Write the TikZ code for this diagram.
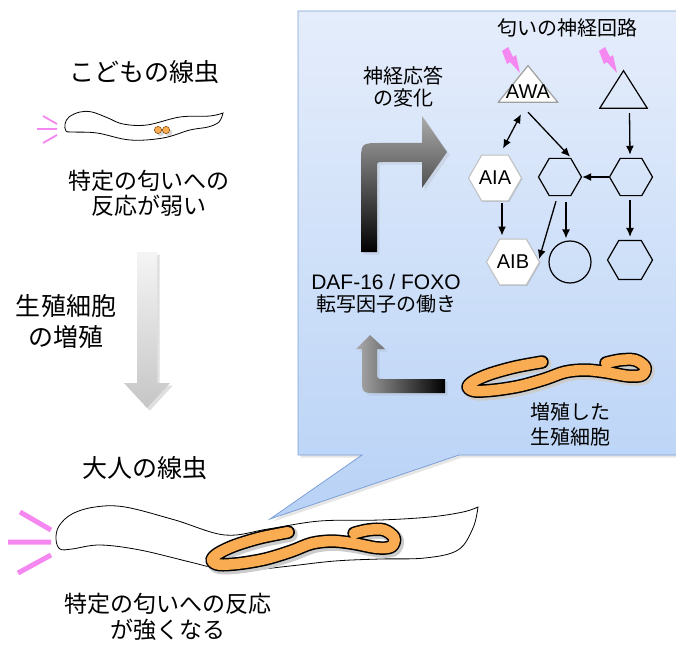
\documentclass[tikz,border=0pt]{standalone}
\usepackage{fontspec}
\setmainfont{Noto Sans CJK JP}
\newfontfamily\latinfont{Liberation Sans}
\usetikzlibrary{arrows.meta,shapes.geometric,shadows,calc}

\definecolor{boxtop}{RGB}{229,237,251}
\definecolor{boxbot}{RGB}{184,210,246}
\definecolor{boxedge}{RGB}{125,160,215}
\definecolor{gonadorange}{RGB}{250,172,82}
\definecolor{odourpink}{RGB}{245,135,240}

\tikzset{
  title/.style={align=center, font=\fontsize{25}{31}\selectfont},
  caption/.style={align=center, font=\fontsize{23}{25}\selectfont},
  inbox/.style={align=center, font=\fontsize{20}{22}\selectfont},
  link/.style={line width=1.3pt, ->},
  wormline/.style={fill=white, draw=black, line width=0.8pt},
  hexw/.style={regular polygon, regular polygon sides=6, inner sep=0pt, fill=white, draw=gray!50, line width=1pt,
    drop shadow={opacity=0.3, shadow xshift=1pt, shadow yshift=-1pt}, font=\latinfont\fontsize{20}{20}\selectfont},
  hexo/.style={regular polygon, regular polygon sides=6, inner sep=0pt, draw=black, line width=1.2pt},
  tri/.style={inner sep=0pt, text height=30pt, text depth=0pt, font=\latinfont\fontsize{20}{20}\selectfont,
    path picture={\draw[#1] ([xshift=0.7pt,yshift=0.7pt]path picture bounding box.south west)
      -- ([yshift=-0.7pt]path picture bounding box.north)
      -- ([xshift=-0.7pt,yshift=0.7pt]path picture bounding box.south east) -- cycle;}},
  gonad/.pic={
    \foreach \w/\c/\s in {15/black!20/2, 13.5/black/0, 10.5/gonadorange/0}
      \draw[line width=\w pt, \c, line cap=round, line join=round, xshift=\s pt, yshift=-\s pt]
        plot[smooth, tension=0.55] coordinates
        {(72,-24) (45,-19) (20,-12) (4,-5) (-2,1) (5,5) (25,4) (50,0) (75,-7) (95,-14) (115,-16)
         (135,-14) (158,-10) (172,-11) (175,-19) (165,-26) (150,-26) (136,-23)};
  },
  bolt/.pic={
    \fill[odourpink] (-18,-22) -- (-12,-26) -- (-7,-16) -- (-4,-18) -- (0,0) -- (-10,-11) -- (-13,-9) -- cycle;
  }
}

\begin{document}
\begin{tikzpicture}[x=1pt, y=-1pt, >={Latex[length=9pt,width=8pt]}]
  \useasboundingbox (0,0) rectangle (676,644);

  \shade[top color=boxtop, bottom color=boxbot, draw=boxedge, line width=0.8pt, drop shadow={opacity=0.2}]
    (298,11) -- (682,11) -- (682,455) -- (459,455) -- (270,519) -- (362,455) -- (298,455) -- cycle;

  % young worm
  \node[title] (kid) at (144,72) {こどもの線虫};
  \draw[odourpink, line width=1.8pt] (43,116) -- (57,124) (37,129) -- (57,129) (43,143) -- (57,135);
  \draw[wormline] plot[smooth, tension=0.6] coordinates
    {(223,113) (219,122) (208,127) (190,130) (163,138) (130,140) (97,133) (72,132) (66,131) (65,124)
     (69,117) (80,112) (92,112) (108,118) (123,124) (147,125) (180,117) (210,116) (223,113)} -- cycle;
  \filldraw[fill=gonadorange, draw=orange!50!black, line width=0.5pt, drop shadow={opacity=0.3}]
    (158,130) circle[radius=3.6] (166,130) circle[radius=3.6];
  \node[caption] (kidtxt) at (149,193) {特定の匂いへの\\反応が弱い};

  \shade[top color=gray!8, bottom color=gray!45, drop shadow={opacity=0.25}]
    (137,252) -- (157,252) -- (157,383) -- (170,383) -- (147,408) -- (124,383) -- (137,383) -- cycle;
  \node[title] (grow) at (66,322) {生殖細胞\\の増殖};

  % adult worm
  \node[title] (adult) at (145,468) {大人の線虫};
  \draw[odourpink, line width=5pt] (20,512) -- (51,530) (8,542) -- (51,542) (18,573) -- (51,555);
  \draw[wormline] plot[smooth, tension=0.6] coordinates
    {(478,507) (473,528) (458,550) (425,558) (380,559) (335,561) (290,566) (250,570) (220,569) (190,562)
     (140,550) (100,545) (72,549) (60,549) (56,539) (59,526) (72,514) (95,507) (125,507) (175,520)
     (225,535) (268,529) (320,521) (380,520) (430,517) (463,512) (478,507)} -- cycle;
  \pic[xscale=1.03, yscale=1.12] at (214,559) {gonad};
  \node[caption, font=\fontsize{23}{26}\selectfont] (adulttxt) at (168,617) {特定の匂いへの反応\\が強くなる};

  % odour circuit
  \node[inbox] (circuit) at (567,28) {匂いの神経回路};
  \node[tri={fill=white, draw=gray!75, line width=1.2pt}, minimum width=61pt, minimum height=38pt] (AWA) at (528,84) {AWA};
  \node[tri={draw=black, line width=1.2pt}, minimum width=49pt, minimum height=39pt] (Ntri) at (623.5,89.5) {};
  \pic at (520,73) {bolt};
  \pic at (617,73) {bolt};
  \node[hexw, minimum size=53pt] (AIA) at (495,178) {AIA};
  \node[hexo, minimum size=43pt] (Nmid) at (560,177) {};
  \node[hexo, minimum size=43pt] (Nright) at (631,177) {};
  \node[hexw, minimum size=53pt] (AIB) at (513,262) {AIB};
  \node[circle, draw=black, line width=1.2pt, minimum size=42pt] (Nround) at (570,262) {};
  \node[hexo, minimum size=45pt] (Nlow) at (630,260) {};

  \draw[link, <->] ($(AWA.south)+(-7,11)$) -- ($(AIA.north)+(8,-6)$);
  \draw[link] ($(AWA.south)+(0,9)$) -- ($(Nmid.corner 1)+(-1,-1)$);
  \draw[link] ($(Ntri.south)+(6,4)$) -- ($(Nright.north)+(-1,-3)$);
  \draw[link] (Nright) -- (Nmid);
  \draw[link] ($(AIA.south)+(7,2)$) -- ($(AIB.north)+(-11,-3)$);
  \draw[link] ($(Nmid.south)+(-4,5)$) -- ($(AIB.corner 6)+(-1,-3)$);
  \draw[link] ($(Nmid.south)+(6,6)$) -- ($(Nround.north)+(-4,-2)$);
  \draw[link] ($(Nright.south)+(-1,4)$) -- ($(Nlow.north)+(0,-3)$);

  % signalling arrows
  \node[inbox] (resp) at (403,87) {神経応答\\の変化};
  \shade[top color=black!33, bottom color=black, drop shadow={opacity=0.15}]
    (361,252) -- (361,163) .. controls (361,143) .. (381,143) -- (422,143) -- (422,116) -- (447,152)
    -- (422,188) -- (422,162) -- (383,162) .. controls (377,162) .. (377,168) -- (377,252) -- cycle;
  \node[inbox] (daf) at (386,294) {{\latinfont\fontsize{21}{22}\selectfont DAF-16 / FOXO}\\転写因子の働き};
  \shade[left color=black!33, right color=black, drop shadow={opacity=0.15}]
    (445,379) -- (384,379) .. controls (377,379) .. (377,372) -- (377,349) -- (385,349) -- (370,335)
    -- (356,349) -- (362,349) -- (362,378) .. controls (362,393) .. (377,393) -- (445,393) -- cycle;
  \pic at (470,386) {gonad};
  \node[inbox, font=\fontsize{20}{25}\selectfont] (germ) at (570,424) {増殖した\\生殖細胞};
\end{tikzpicture}
\end{document}
